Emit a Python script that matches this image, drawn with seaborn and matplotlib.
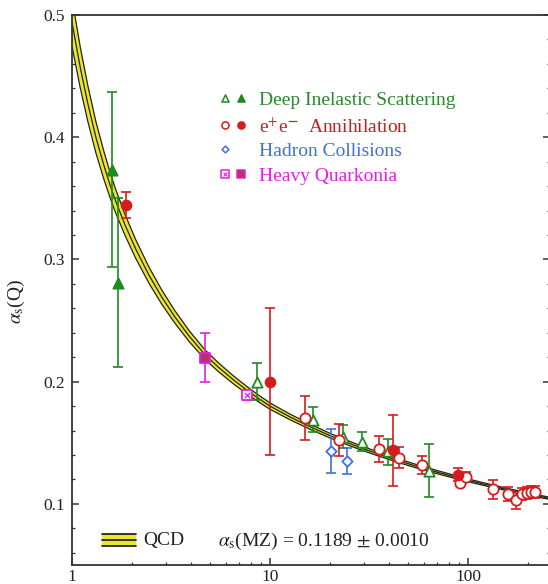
import numpy as np
import pandas as pd
import matplotlib
matplotlib.use("Agg")
import matplotlib.pyplot as plt
from matplotlib.ticker import LogLocator, NullFormatter, FixedLocator, MultipleLocator
import seaborn as sns

# ---------------- data ----------------
# QCD band: centre value and half width
qcd_q = [1.0, 1.1, 1.2, 1.32, 1.45, 1.55, 1.65, 1.85, 2.1, 2.45, 2.84, 3.3, 3.9, 4.7,
         5.5, 6.5, 7.6, 8.7, 10, 12.6, 16, 20, 24, 28.6, 36, 45, 57, 72, 91, 115, 145,
         180, 215, 250, 260]
qcd_a = [0.494, 0.4573, 0.4281, 0.400, 0.3768, 0.3619, 0.349, 0.3285, 0.3084, 0.287,
         0.2692, 0.2532, 0.2374, 0.222, 0.2117, 0.2018, 0.1933, 0.1865, 0.180, 0.1712,
         0.163, 0.156, 0.1508, 0.146, 0.1403, 0.1351, 0.130, 0.1254, 0.121, 0.1169,
         0.1131, 0.1097, 0.1071, 0.105, 0.1045]
qcd_d = [0.0195, 0.0167, 0.0147, 0.0128, 0.0114, 0.0105, 0.0097, 0.0086, 0.0076, 0.0066,
         0.0058, 0.0051, 0.0045, 0.0039, 0.0036, 0.0033, 0.0030, 0.0028, 0.0026, 0.0023,
         0.0021, 0.0019, 0.0018, 0.0017, 0.0016, 0.0015, 0.0014, 0.0013, 0.0012, 0.0011,
         0.0010, 0.0010, 0.0009, 0.0009, 0.0009]

# Deep inelastic scattering
dis_filled_q = [1.585, 1.70]
dis_filled_a = [0.373, 0.281]
dis_filled_lo = [0.079, 0.069]
dis_filled_hi = [0.064, 0.069]
dis_open_q = [8.63, 16.4, 23.3, 29.1, 39.3, 63.8]
dis_open_a = [0.200, 0.169, 0.155, 0.151, 0.143, 0.127]
dis_open_lo = [0.015, 0.010, 0.0095, 0.008, 0.011, 0.021]
dis_open_hi = [0.0155, 0.010, 0.0095, 0.008, 0.010, 0.022]

# e+e- annihilation
ee_filled_q = [1.87, 10.0, 41.7, 89.3]
ee_filled_a = [0.3445, 0.200, 0.144, 0.124]
ee_filled_err = [0.0105, 0.060, 0.029, 0.005]
ee_open_q = [15.1, 22.4, 35.6, 45.0, 58.8, 91.1, 97.3, 133, 160, 175, 187, 198, 208, 218]
ee_open_a = [0.1705, 0.152, 0.1446, 0.1377, 0.1318, 0.1175, 0.1220, 0.1119, 0.108,
             0.103, 0.1078, 0.109, 0.110, 0.110]
ee_open_err = [0.018, 0.013, 0.0106, 0.0085, 0.0072, 0.003, 0.004, 0.008, 0.006,
               0.007, 0.005, 0.005, 0.005, 0.005]

# Hadron collisions
had_q = [20.3, 24.6]
had_a = [0.1435, 0.1353]
had_err = [0.018, 0.0107]

# Heavy quarkonia
hq_filled_q = [4.70]
hq_filled_a = [0.2196]
hq_filled_err = [0.020]
hq_open_q = [7.63]
hq_open_a = [0.189]
hq_open_err = [0.004]

x_ticks = [1, 10, 100]
x_ticklabels = ["1", "10", "100"]
y_ticks = [0.1, 0.2, 0.3, 0.4, 0.5]
y_ticklabels = ["0.1", "0.2", "0.3", "0.4", "0.5"]

legend_labels = ["Deep Inelastic Scattering", r"e$^{+}$e$^{\mathbf{-}}$  Annihilation",
                 "Hadron Collisions", "Heavy Quarkonia"]
qcd_label = "QCD"
fit_label = r"$\alpha_{\rm s}$(MZ) = 0.1189 $\pm$ 0.0010"

# ---------------- style ----------------
GREEN = "#1f8b1f"
RED = "#d41c1c"
BLUE = "#3f6fe0"
MAG = "#e21fe2"
HQ_FILL = "#b8325e"
YELLOW = "#ece62a"
SPINE = "#333333"

sns.set_theme(style="ticks")
plt.rcParams["font.family"] = ["Liberation Serif", "DejaVu Serif"]
plt.rcParams["mathtext.fontset"] = "stix"

fig = plt.figure(figsize=(5.48, 5.84), dpi=100)
ax = fig.add_axes([72 / 548, 19 / 584, 477.5 / 548, 550 / 584])
ax.set_xscale("log")

# ---------------- QCD band ----------------
qcd = pd.DataFrame({"Q": qcd_q, "a": qcd_a, "d": qcd_d})
qcd["lo"] = qcd["a"] - qcd["d"]
qcd["hi"] = qcd["a"] + qcd["d"]
ax.fill_between(qcd["Q"], qcd["lo"], qcd["hi"], color=YELLOW, lw=0, zorder=1)
for col in ("lo", "hi", "a"):
    sns.lineplot(data=qcd, x="Q", y=col, ax=ax, color="#222222", lw=0.9,
                 zorder=2, sort=False)


def errs(q, a, lo, hi, color):
    ax.errorbar(q, a, yerr=[lo, hi], fmt="none", ecolor=color, elinewidth=1.2,
                capsize=3.3, capthick=1.2, zorder=3)


def pts(q, a, marker, color, filled, s, face=None, lw=1.3, z=4):
    fc = (face if face is not None else color) if filled else "white"
    sns.scatterplot(x=q, y=a, ax=ax, marker=marker, s=s, color=fc,
                    edgecolor=color, linewidth=lw, zorder=z, legend=False)


# DIS
errs(dis_filled_q, dis_filled_a, dis_filled_lo, dis_filled_hi, GREEN)
errs(dis_open_q, dis_open_a, dis_open_lo, dis_open_hi, GREEN)
pts(dis_filled_q, dis_filled_a, "^", GREEN, True, 55)
pts(dis_open_q, dis_open_a, "^", GREEN, False, 55)
# e+e-
errs(ee_filled_q, ee_filled_a, ee_filled_err, ee_filled_err, RED)
errs(ee_open_q, ee_open_a, ee_open_err, ee_open_err, RED)
pts(ee_open_q, ee_open_a, "o", RED, False, 55)
pts(ee_filled_q, ee_filled_a, "o", RED, True, 50)
# hadron
errs(had_q, had_a, had_err, had_err, BLUE)
pts(had_q, had_a, "D", BLUE, False, 28)
# quarkonia
errs(hq_filled_q, hq_filled_a, hq_filled_err, hq_filled_err, MAG)
errs(hq_open_q, hq_open_a, hq_open_err, hq_open_err, MAG)
pts(hq_filled_q, hq_filled_a, "s", MAG, True, 50, face=HQ_FILL)
pts(hq_open_q, hq_open_a, "s", MAG, False, 45)
sns.scatterplot(x=hq_open_q, y=hq_open_a, ax=ax, marker="x", s=16, color=MAG,
                linewidth=0.9, zorder=5, legend=False)

# ---------------- axes ----------------
ax.set_xlim(1, 10 ** (477.5 / 198))
ax.set_ylim(0.05, 0.5)
ax.xaxis.set_major_locator(FixedLocator(x_ticks))
ax.set_xticklabels(x_ticklabels)
ax.xaxis.set_minor_locator(LogLocator(base=10, subs=np.arange(2, 10)))
ax.xaxis.set_minor_formatter(NullFormatter())
ax.set_yticks(y_ticks)
ax.set_yticklabels(y_ticklabels)
ax.yaxis.set_minor_locator(MultipleLocator(0.02))
ax.tick_params(which="both", direction="in", colors=SPINE, labelcolor="#222222",
               labelsize=12.5, right=True, top=False)
ax.tick_params(which="major", length=5, width=1.1)
ax.tick_params(which="minor", length=2.5, width=0.9)
ax.tick_params(axis="y", pad=5)
ax.tick_params(axis="x", pad=3)
for sp in ax.spines.values():
    sp.set_color(SPINE)
    sp.set_linewidth(1.3)
ax.set_xlabel("")
ax.set_ylabel(r"$\alpha_{\rm s}$(Q)", fontsize=14, color="#222222")
ax.yaxis.set_label_coords(-0.094, 0.48)

# ---------------- legend (upper) ----------------
def ax_x(px):
    return (px - 72) / 477.5


def ax_y(py):
    return (565 - py) / 550


rows = [
    (98.3, GREEN, "#2a8a2a", [("^", False, None), ("^", True, None)]),
    (125.0, RED, "#c42020", [("o", False, None), ("o", True, None)]),
    (149.3, BLUE, BLUE, [("D", False, None)]),
    (174.3, MAG, MAG, [("s", False, "x"), ("s", True, HQ_FILL)]),
]
for (py, mcol, tcol, mks), lab in zip(rows, legend_labels):
    for i, (mk, filled, extra) in enumerate(mks):
        px = 225 if i == 0 else 240.5
        sz = 12 if mk == "D" else 26
        fc = (extra if (filled and extra) else mcol) if filled else "white"
        ax.scatter([ax_x(px)], [ax_y(py)], marker=mk, s=sz, facecolor=fc,
                   edgecolor=mcol, linewidth=1.1, transform=ax.transAxes,
                   zorder=6, clip_on=False)
        if extra == "x":
            ax.scatter([ax_x(px)], [ax_y(py)], marker="x", s=8, color=mcol,
                       linewidth=0.8, transform=ax.transAxes, zorder=7)
    ax.text(ax_x(259), ax_y(py + 2), lab, color=tcol, fontsize=14,
            va="center", ha="left", transform=ax.transAxes)

# ---------------- legend (bottom) ----------------
bx0, bx1 = ax_x(102), ax_x(136)
for yy in (536.5, 543.5):
    ax.fill_between([bx0, bx1], ax_y(yy - 2.5), ax_y(yy + 2.5), color=YELLOW,
                    transform=ax.transAxes, lw=0, zorder=6)
for yy in (534, 540, 546):
    ax.plot([bx0, bx1], [ax_y(yy), ax_y(yy)], color="#222222", lw=1.3,
            transform=ax.transAxes, zorder=7)
ax.text(ax_x(143), ax_y(541), qcd_label, fontsize=14, color="#222222",
        va="center", ha="left", transform=ax.transAxes)
ax.text(ax_x(218), ax_y(541), fit_label, fontsize=14, color="#222222",
        va="center", ha="left", transform=ax.transAxes)

fig.savefig("out.png", dpi=100)
